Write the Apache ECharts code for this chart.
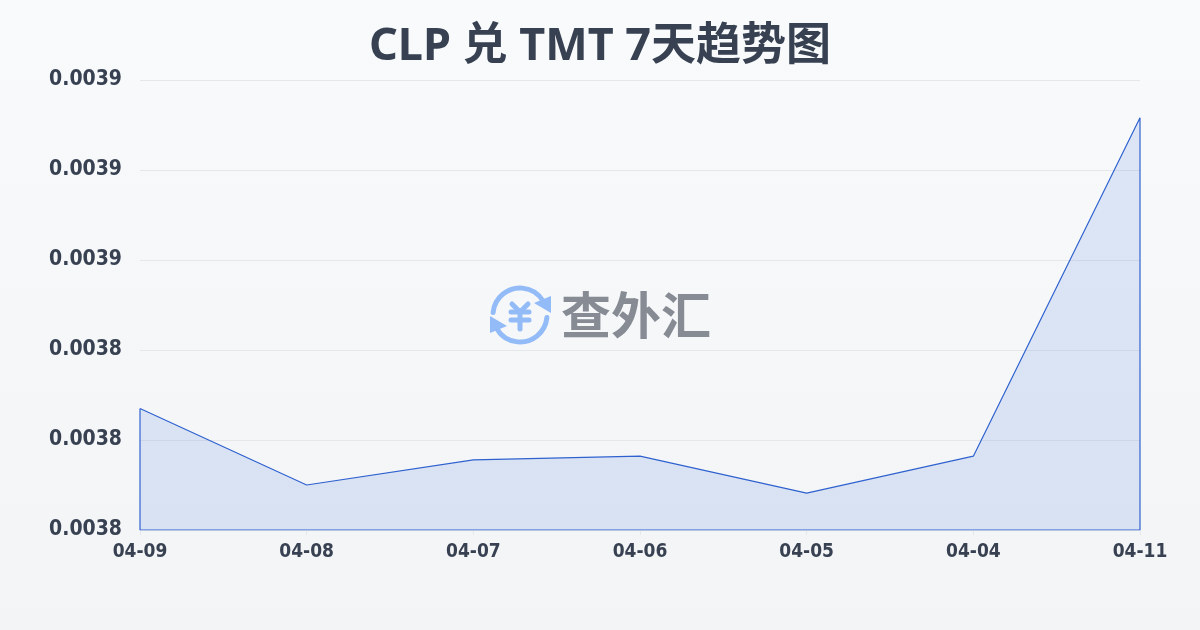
<!DOCTYPE html>
<html>
<head>
    <meta charset="utf-8">
    <style>
        html, body { margin: 0; padding: 0; }
        #main { width: 1200px; height: 630px; }
    </style>
</head>
<body>

<div id="main"></div>

<script type="text/javascript" src="https://cdn.jsdelivr.net/npm/echarts@6/dist/echarts.min.js"></script>

<script type="text/javascript">
    var titleText = 'CLP 兑 TMT 7天趋势图';
    var dates = ['04-09', '04-08', '04-07', '04-06', '04-05', '04-04', '04-11'];
    var rates = [0.003827, 0.00381, 0.0038156, 0.0038164, 0.0038082, 0.0038164, 0.0038916];
    var axisMin = 0.0038;
    var axisMax = 0.0039;
    var axisStep = 0.00002;

    var fontFamily = '"Noto Sans", "Noto Sans CJK SC", sans-serif';
    var labelFont = '"DejaVu Sans Condensed", "DejaVu Sans", sans-serif';
    var textColor = '#374151';
    var iconBlue = '#93bbf8';

    // 折线沿基线闭合，边框画满一圈
    var outline = dates.map(function (d, i) { return [d, rates[i]]; });
    outline.push([dates[dates.length - 1], axisMin]);
    outline.push([dates[0], axisMin]);
    outline.push([dates[0], rates[0]]);

    var myChart = echarts.init(document.getElementById('main'), null, { renderer: 'canvas' });

    var iconStroke = { stroke: iconBlue, lineWidth: 5, lineCap: 'round', fill: null };

    var option = {
        animation: false,
        backgroundColor: new echarts.graphic.LinearGradient(0, 0, 0, 1, [
            { offset: 0, color: '#f8fafc' },
            { offset: 1, color: '#f3f4f6' }
        ]),
        title: {
            text: titleText,
            left: 'center',
            top: 20,
            textStyle: { fontFamily: fontFamily, fontSize: 45, fontWeight: 'bold', color: textColor }
        },
        grid: { left: 140, right: 60, top: 80, bottom: 100 },
        xAxis: {
            type: 'category',
            boundaryGap: false,
            data: dates,
            axisLine: { show: false },
            axisTick: { show: true, length: 5, lineStyle: { color: '#e5e7eb' } },
            axisLabel: { fontFamily: labelFont, fontSize: 19, fontWeight: 'bold', color: textColor, margin: 13, hideOverlap: false, interval: 0 },
            splitLine: { show: false }
        },
        yAxis: {
            type: 'value',
            min: axisMin,
            max: axisMax,
            interval: axisStep,
            axisLine: { show: false },
            axisTick: { show: false },
            axisLabel: {
                fontFamily: labelFont, fontSize: 21, fontWeight: 'bold', color: textColor, margin: 18,
                formatter: function (v) { return v.toFixed(4); }
            },
            splitLine: { lineStyle: { color: '#e5e7eb', width: 1 } }
        },
        series: [{
            type: 'line',
            data: outline,
            symbol: 'none',
            smooth: false,
            lineStyle: { color: '#2f62cf', width: 1.2 },
            areaStyle: { color: 'rgba(59,110,220,0.2)', origin: 'start' }
        }],
        graphic: [
            { type: 'arc', z: 10, shape: { cx: 520, cy: 315, r: 27, startAngle: Math.PI * 1.03, endAngle: Math.PI * 1.83 }, style: iconStroke },
            { type: 'arc', z: 10, shape: { cx: 520, cy: 315, r: 27, startAngle: Math.PI * 0.03, endAngle: Math.PI * 0.83 }, style: iconStroke },
            { type: 'polygon', z: 10, shape: { points: [[551, 296], [551, 313], [534, 303]] }, style: { fill: iconBlue } },
            { type: 'polygon', z: 10, shape: { points: [[490, 316], [490, 333], [507, 326]] }, style: { fill: iconBlue } },
            { type: 'polyline', z: 10, shape: { points: [[512, 304], [520, 312], [528, 304]] }, style: iconStroke },
            { type: 'line', z: 10, shape: { x1: 511, y1: 312, x2: 529, y2: 312 }, style: iconStroke },
            { type: 'line', z: 10, shape: { x1: 511, y1: 320, x2: 529, y2: 320 }, style: iconStroke },
            { type: 'line', z: 10, shape: { x1: 520, y1: 312, x2: 520, y2: 329 }, style: iconStroke },
            {
                type: 'text', z: 10, left: 561, top: 290,
                style: { text: '查外汇', fontFamily: '"Noto Sans CJK SC"', fontSize: 50, fontWeight: 'bold', fill: '#868b94' }
            }
        ]
    };

    myChart.setOption(option);
</script>

</body>
</html>
